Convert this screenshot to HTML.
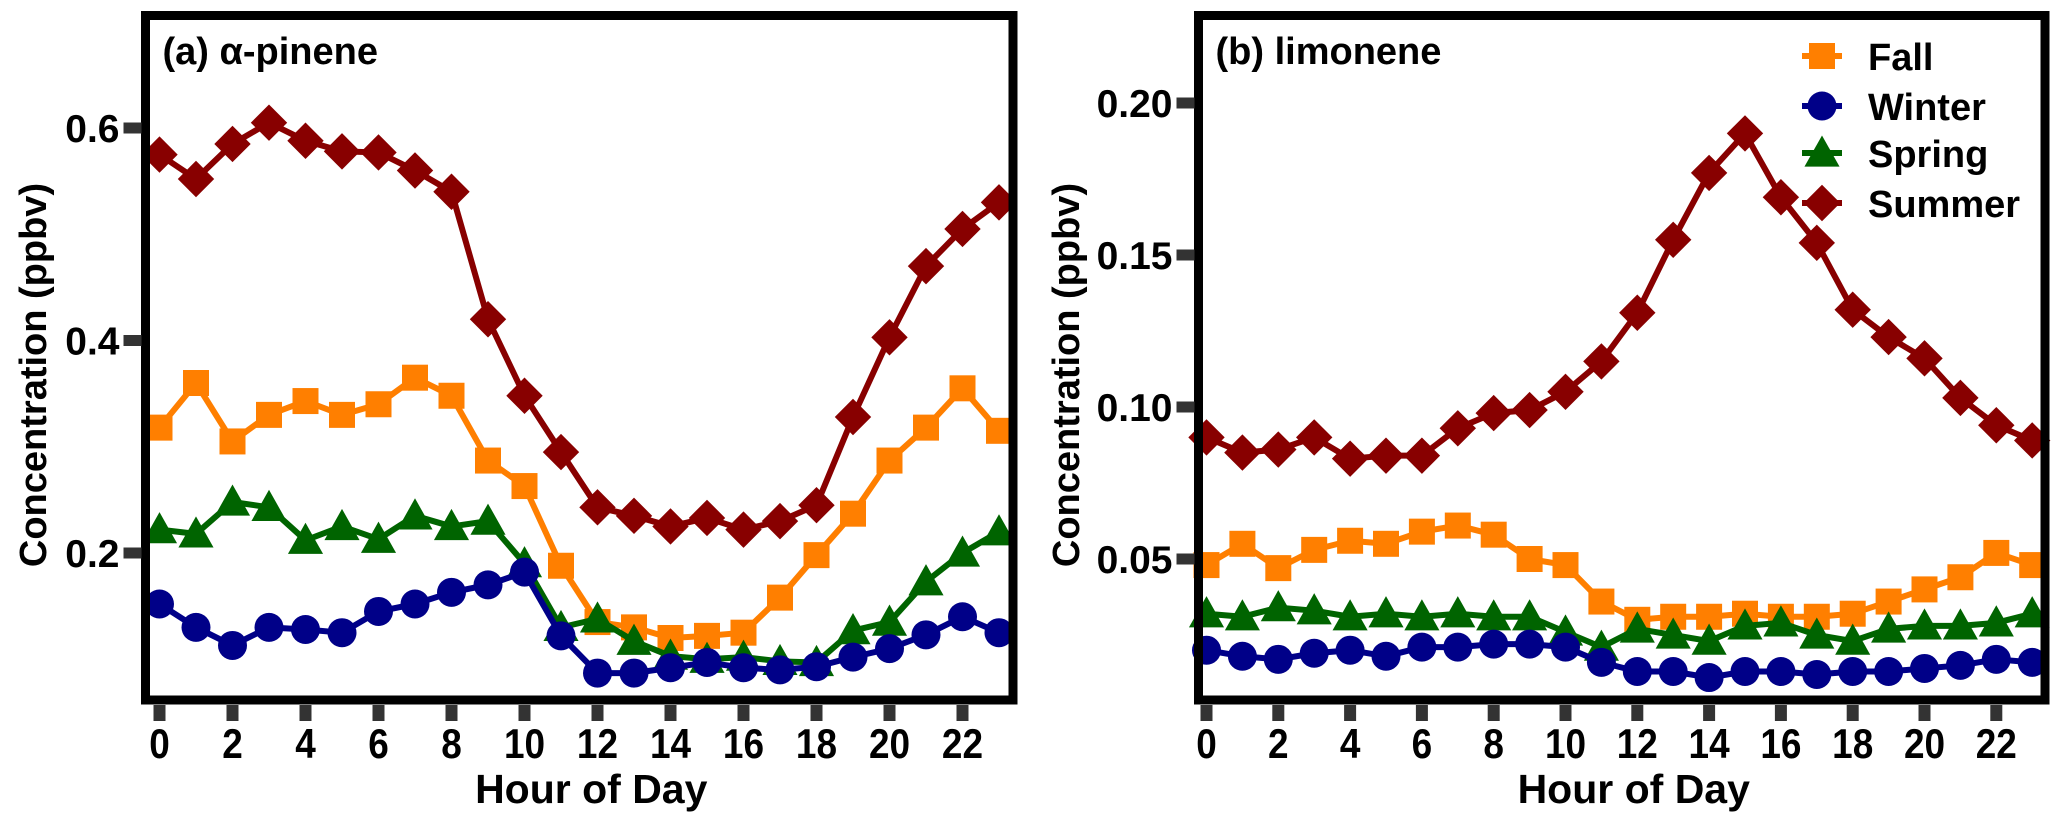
<!DOCTYPE html>
<html><head><meta charset="utf-8"><style>
html,body{margin:0;padding:0;background:#fff;}
svg{display:block;font-family:"Liberation Sans",Arial,sans-serif;font-weight:bold;}
</style></head><body>
<svg id="chart" width="2067" height="822" viewBox="0 0 2067 822"></svg>
<script>
const hours=[0,1,2,3,4,5,6,7,8,9,10,11,12,13,14,15,16,17,18,19,20,21,22,23];
const xTicks=[0,2,4,6,8,10,12,14,16,18,20,22];
const seasons=["Fall","Winter","Spring","Summer"];
const colors=["#ff7f00","#000088","#006400","#880000"];
const markers=["square","circle","triangle","diamond"];
const pineneTicks=[0.2,0.4,0.6];
const pineneTickLabels=["0.2","0.4","0.6"];
const limoneneTicks=[0.05,0.10,0.15,0.20];
const limoneneTickLabels=["0.05","0.10","0.15","0.20"];
const pineneFall=[0.318,0.360,0.305,0.330,0.343,0.330,0.340,0.365,0.348,0.287,0.263,0.188,0.135,0.130,0.120,0.122,0.125,0.158,0.198,0.237,0.287,0.318,0.355,0.315];
const pineneWinter=[0.152,0.130,0.113,0.130,0.128,0.125,0.145,0.152,0.163,0.170,0.182,0.122,0.087,0.087,0.092,0.097,0.092,0.090,0.093,0.102,0.110,0.123,0.140,0.125];
const pineneSpring=[0.222,0.218,0.248,0.243,0.212,0.225,0.213,0.235,0.225,0.230,0.190,0.130,0.138,0.117,0.103,0.100,0.102,0.098,0.097,0.127,0.135,0.173,0.200,0.220];
const pineneSummer=[0.575,0.552,0.585,0.605,0.588,0.578,0.577,0.560,0.540,0.420,0.348,0.295,0.243,0.235,0.225,0.233,0.222,0.230,0.245,0.328,0.403,0.470,0.505,0.530];
const limFall=[0.048,0.055,0.047,0.053,0.056,0.055,0.059,0.061,0.058,0.050,0.048,0.036,0.030,0.031,0.031,0.032,0.031,0.031,0.032,0.036,0.040,0.044,0.052,0.048];
const limWinter=[0.020,0.018,0.017,0.019,0.020,0.018,0.021,0.021,0.022,0.022,0.021,0.016,0.013,0.013,0.011,0.013,0.013,0.012,0.013,0.013,0.014,0.015,0.017,0.016];
const limSpring=[0.032,0.031,0.034,0.033,0.031,0.032,0.031,0.032,0.031,0.031,0.026,0.021,0.027,0.025,0.023,0.028,0.029,0.025,0.023,0.027,0.028,0.028,0.029,0.032];
const limSummer=[0.090,0.085,0.086,0.090,0.083,0.084,0.084,0.093,0.098,0.099,0.105,0.115,0.131,0.155,0.177,0.190,0.169,0.154,0.132,0.123,0.116,0.103,0.094,0.089];

const NS="http://www.w3.org/2000/svg";
const svg=document.getElementById('chart');
function mk(tag,attrs,parent){const e=document.createElementNS(NS,tag);for(const k in attrs)e.setAttribute(k,attrs[k]);(parent||svg).appendChild(e);return e;}

function marker(g,type,cx,cy,color,s){
  let e;
  if(type==="square") e=mk('rect',{x:cx-s,y:cy-s,width:2*s,height:2*s,fill:color},g);
  else if(type==="circle") e=mk('circle',{cx:cx,cy:cy,r:s+1.5,fill:color},g);
  else if(type==="triangle") e=mk('polygon',{points:`${cx},${cy-s*1.35} ${cx-s*1.35},${cy+s*1.05} ${cx+s*1.35},${cy+s*1.05}`,fill:color},g);
  else e=mk('polygon',{points:`${cx},${cy-s*1.4} ${cx+s*1.4},${cy} ${cx},${cy+s*1.4} ${cx-s*1.4},${cy}`,fill:color},g);
  return e;
}

function panel(p){
  const g=mk('g',{});
  
  
  const xs=h=>p.x0+h*p.dx;
  const ys=v=>p.yZero-v*p.yScale;
  const order=[3,0,2,1];
  order.forEach(i=>{
    const sg=mk('g',{},g);
    
    
    const vals=p.series[i];
    const pts=hours.map((h,k)=>xs(h)+','+ys(vals[k])).join(' ');
    const pl=mk('polyline',{points:pts,fill:'none',stroke:colors[i],'stroke-width':6,'stroke-linejoin':'round'},sg);
    
    
    hours.forEach((h,k)=>{
      const m=marker(sg,markers[i],xs(h),ys(vals[k]),colors[i],13);
      
      
    });
  });
  const fr=mk('rect',{x:p.left,y:15.5,width:p.right-p.left,height:700-15.5,fill:'none',stroke:'#000','stroke-width':9},g);
  
  
  p.yTicks.forEach((v,k)=>{
    const t=mk('rect',{x:p.left-22,y:ys(v)-5.5,width:18,height:11,fill:'#333'},g);
    
    
    const tx=mk('text',{x:p.left-26,y:ys(v)+14,'text-anchor':'end','font-size':39,fill:'#000'},g);
    tx.textContent=p.yLabels[k];
    
    
  });
  xTicks.forEach(h=>{
    const t=mk('rect',{x:xs(h)-6,y:705,width:12,height:16,fill:'#333'},g);
    
    
    const tx=mk('text',{x:xs(h),y:758,'text-anchor':'middle','font-size':42,fill:'#000',transform:`translate(${xs(h)},0) scale(0.88,1) translate(${-xs(h)},0)`},g);
    tx.textContent=String(h);
    
    
  });
  const xt=mk('text',{x:(p.left+p.right)/2+12,y:803,'text-anchor':'middle','font-size':41,fill:'#000'},g);
  xt.textContent='Hour of Day';
  
  
  const yt=mk('text',{x:0,y:0,'text-anchor':'middle','font-size':38,fill:'#000',transform:`translate(${p.yTitleX},375) rotate(-90)`},g);
  yt.textContent='Concentration (ppbv)';
  
  
  const pt=mk('text',{x:p.left+17,y:64,'font-size':38,fill:'#000'},g);
  pt.textContent=p.title;
  
  
}

panel({name:'panel-a-pinene',prefix:'pinene',left:145.5,right:1013,x0:159.5,dx:36.5,yZero:765.5,yScale:1062.5,yTicks:pineneTicks,yLabels:pineneTickLabels,yTitleX:46,title:'(a) α-pinene',series:[pineneFall,pineneWinter,pineneSpring,pineneSummer]});
panel({name:'panel-b-limonene',prefix:'limonene',left:1198.5,right:2045,x0:1206.5,dx:35.9,yZero:711,yScale:3040,yTicks:limoneneTicks,yLabels:limoneneTickLabels,yTitleX:1079,title:'(b) limonene',series:[limFall,limWinter,limSpring,limSummer]});

const lg=mk('g',{});


const legY=[56,106,153,203];
seasons.forEach((s,i)=>{
  const eg=mk('g',{},lg);
  
  
  mk('line',{x1:1802,x2:1842,y1:legY[i],y2:legY[i],stroke:colors[i],'stroke-width':6},eg);
  marker(eg,markers[i],1822,legY[i],colors[i],13);
  const t=mk('text',{x:1868,y:legY[i]+14,'font-size':38,fill:'#000'},eg);
  t.textContent=s;
});
</script>
</body></html>
